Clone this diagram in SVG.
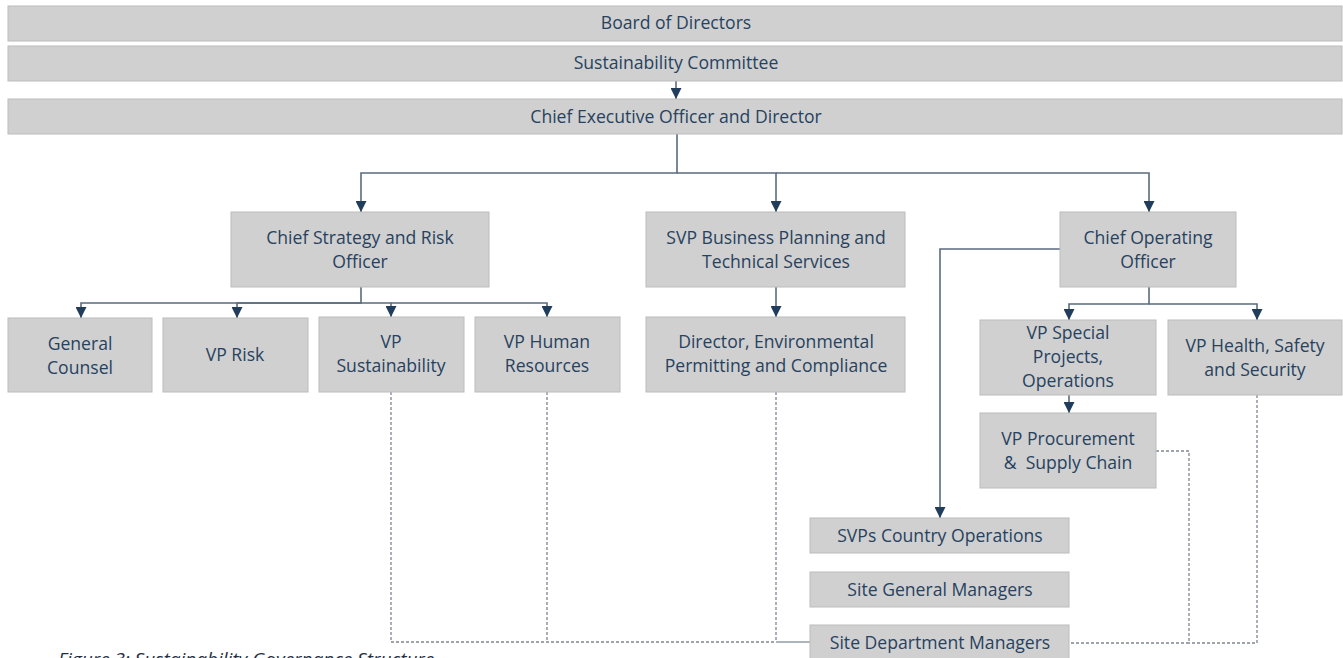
<svg xmlns="http://www.w3.org/2000/svg" width="1343" height="658" viewBox="0 0 1343 658">
<style>
.box{fill:#d0d0d0;stroke:#bcbcbc;stroke-width:1}
.t{font-family:"Open Sans","Liberation Sans",sans-serif;font-size:17.6px;fill:#27425f;text-anchor:middle;white-space:pre}
.c{fill:none;stroke:#5b6b7f;stroke-width:1.6}
.d{fill:none;stroke:#7f868f;stroke-width:1.3;stroke-dasharray:3 2}
.cap{font-family:"Open Sans","Liberation Sans",sans-serif;font-size:19px;font-style:italic;fill:#1f2f45}
</style>
<defs>
<marker id="ah" viewBox="0 0 10 10" refX="10" refY="5" markerWidth="11" markerHeight="11" orient="auto" markerUnits="userSpaceOnUse">
<path d="M0,0 L10,5 L0,10 z" fill="#203d5c"/>
</marker>
</defs>
<rect width="1343" height="658" fill="#ffffff"/>
<g id="connectors">
<path class="c" d="M676,81 V99" marker-end="url(#ah)"/>
<path class="c" d="M677,134 V173 H361 V212" marker-end="url(#ah)"/>
<path class="c" d="M677,173 H776 V212" marker-end="url(#ah)"/>
<path class="c" d="M776,173 H1149 V212" marker-end="url(#ah)"/>
<path class="c" d="M361,287 V303 H81 V318" marker-end="url(#ah)"/>
<path class="c" d="M361,303 H237 V318" marker-end="url(#ah)"/>
<path class="c" d="M361,303 H391 V317" marker-end="url(#ah)"/>
<path class="c" d="M391,303 H547 V317" marker-end="url(#ah)"/>
<path class="c" d="M776,287 V317" marker-end="url(#ah)"/>
<path class="c" d="M1149,287 V304 H1069 V320" marker-end="url(#ah)"/>
<path class="c" d="M1149,304 H1257 V320" marker-end="url(#ah)"/>
<path class="c" d="M1069,395 V413" marker-end="url(#ah)"/>
<path class="c" d="M1060,249 H940 V518" marker-end="url(#ah)"/>
<path class="d" d="M391,392 V642 H776"/>
<path class="d" d="M547,392 V642"/>
<path class="d" d="M776,392 V642"/>
<path class="c" d="M776,642 H810" style="stroke-width:1.2"/>
<path class="d" d="M1156,451 H1189 V643 H1069"/>
<path class="d" d="M1257,395 V643 H1189"/>
</g>
<g id="board"><rect class="box" x="8" y="6" width="1334" height="35"/><text class="t" x="676" y="29">Board of Directors</text></g>
<g id="committee"><rect class="box" x="8" y="46" width="1334" height="35"/><text class="t" x="676" y="69">Sustainability Committee</text></g>
<g id="ceo"><rect class="box" x="8" y="99" width="1334" height="35"/><text class="t" x="676" y="123">Chief Executive Officer and Director</text></g>
<g id="csro"><rect class="box" x="231" y="212" width="258" height="75"/><text class="t" x="360" y="244">Chief Strategy and Risk</text><text class="t" x="360" y="268">Officer</text></g>
<g id="svp-bpts"><rect class="box" x="646" y="212" width="259" height="75"/><text class="t" x="776" y="244">SVP Business Planning and</text><text class="t" x="776" y="268">Technical Services</text></g>
<g id="coo"><rect class="box" x="1060" y="212" width="176" height="75"/><text class="t" x="1148" y="244">Chief Operating</text><text class="t" x="1148" y="268">Officer</text></g>
<g id="general-counsel"><rect class="box" x="8" y="318" width="144" height="74"/><text class="t" x="80" y="350">General</text><text class="t" x="80" y="374">Counsel</text></g>
<g id="vp-risk"><rect class="box" x="163" y="318" width="145" height="74"/><text class="t" x="235" y="361">VP Risk</text></g>
<g id="vp-sustainability"><rect class="box" x="319" y="317" width="145" height="75"/><text class="t" x="391" y="348">VP</text><text class="t" x="391" y="372">Sustainability</text></g>
<g id="vp-hr"><rect class="box" x="475" y="317" width="145" height="75"/><text class="t" x="547" y="348">VP Human</text><text class="t" x="547" y="372">Resources</text></g>
<g id="director-env"><rect class="box" x="646" y="317" width="259" height="75"/><text class="t" x="776" y="348">Director, Environmental</text><text class="t" x="776" y="372">Permitting and Compliance</text></g>
<g id="vp-special"><rect class="box" x="980" y="320" width="176" height="75"/><text class="t" x="1068" y="339">VP Special</text><text class="t" x="1068" y="363">Projects,</text><text class="t" x="1068" y="387">Operations</text></g>
<g id="vp-hss"><rect class="box" x="1168" y="320" width="174" height="75"/><text class="t" x="1255" y="352">VP Health, Safety</text><text class="t" x="1255" y="376">and Security</text></g>
<g id="vp-procurement"><rect class="box" x="980" y="413" width="176" height="75"/><text class="t" x="1068" y="445">VP Procurement</text><text class="t" x="1068" y="469">&amp;  Supply Chain</text></g>
<g id="svps-country"><rect class="box" x="810" y="518" width="259" height="35"/><text class="t" x="940" y="542">SVPs Country Operations</text></g>
<g id="site-gm"><rect class="box" x="810" y="572" width="259" height="35"/><text class="t" x="940" y="596">Site General Managers</text></g>
<g id="site-dept"><rect class="box" x="810" y="625" width="259" height="36"/><text class="t" x="940" y="649">Site Department Managers</text></g>
<text class="cap" x="58" y="666">Figure 3: Sustainability Governance Structure</text>
</svg>
